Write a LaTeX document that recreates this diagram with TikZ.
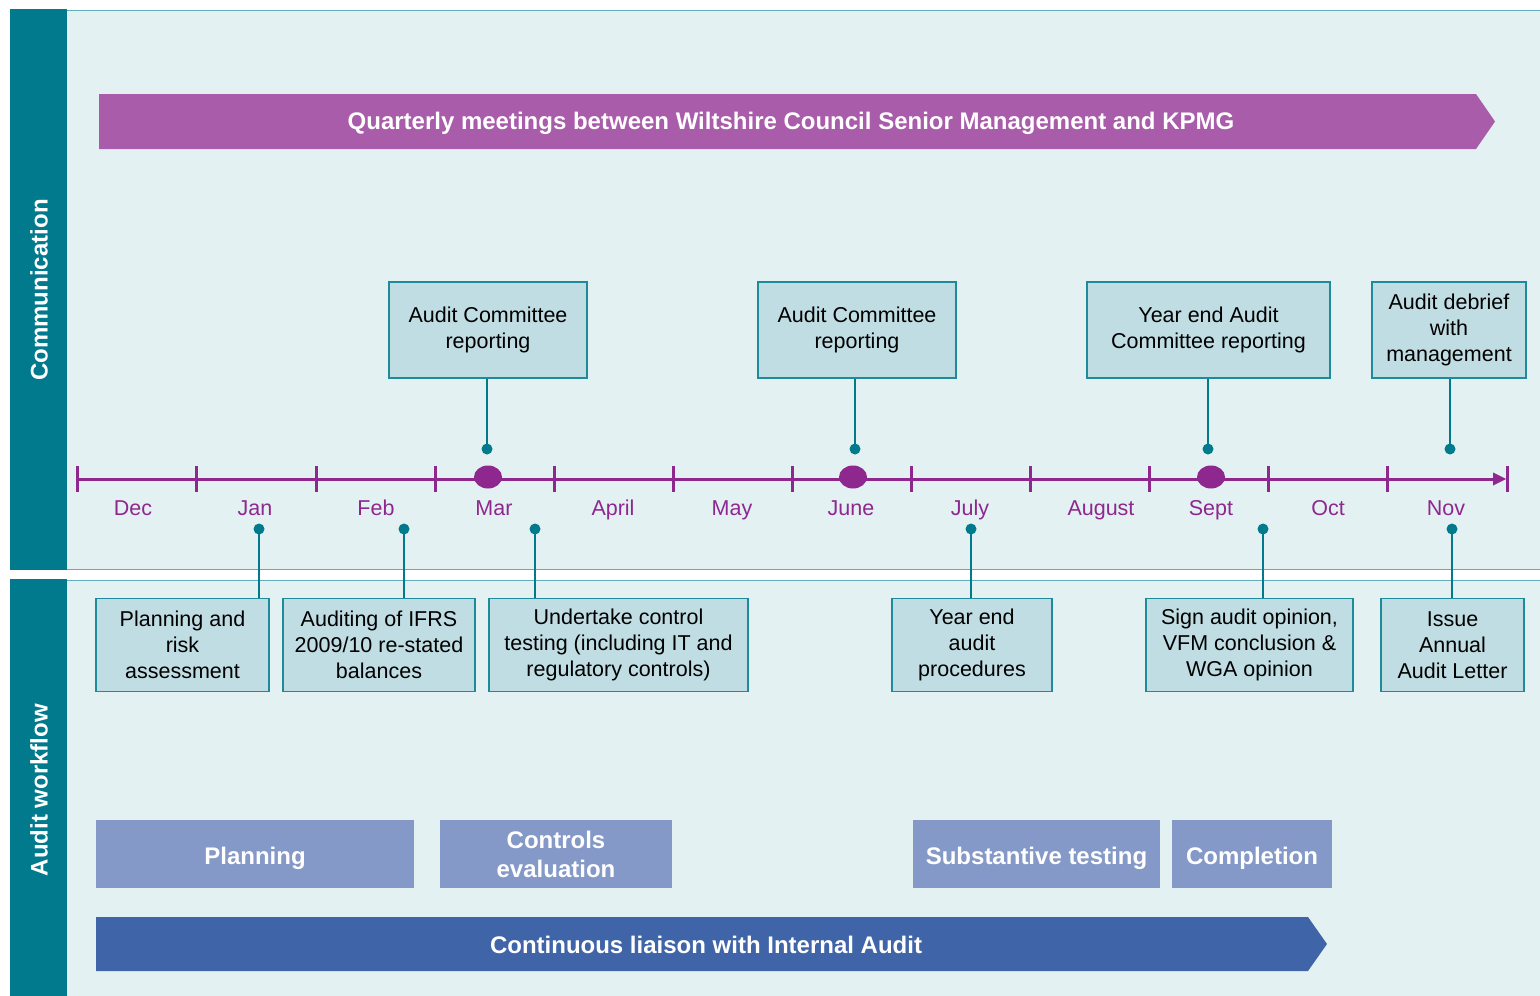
\documentclass[tikz,border=0pt]{standalone}
\usepackage{fontspec}
\setmainfont{Liberation Sans}
\usetikzlibrary{positioning,shapes.geometric}

\definecolor{sidebar}{HTML}{007A8C}
\definecolor{panel}{HTML}{E3F1F3}
\definecolor{panelline}{HTML}{5FAEBB}
\definecolor{boxfill}{HTML}{BFDDE3}
\definecolor{boxline}{HTML}{1F8A9A}
\definecolor{plum}{HTML}{8E278E}
\definecolor{meetband}{HTML}{A95CA9}
\definecolor{phasefill}{HTML}{8599C8}
\definecolor{liaisonband}{HTML}{3F64A8}

\tikzset{
  eventbox/.style={draw=boxline, fill=boxfill, line width=1.2pt, align=center, inner sep=0pt, text=black},
  phasebox/.style={fill=phasefill, align=center, inner sep=0pt, text=white, font=\fontsize{24}{29}\selectfont\bfseries},
  oneline/.style={text height=20pt, text depth=0pt},
  month/.style={text=plum, anchor=base},
  tick/.style={draw=plum, line width=3pt},
  pin/.style={draw=sidebar, line width=2.4pt},
  pindot/.style={circle, fill=sidebar, inner sep=0pt, minimum size=11pt},
  bandtext/.style={text=white, font=\fontsize{24}{28}\selectfont\bfseries},
  sidelabel/.style={rotate=90, text=white, font=\fontsize{24}{28}\selectfont\bfseries}
}

\begin{document}
\begin{tikzpicture}[x=1pt, y=-1pt, font=\fontsize{21.5}{26}\selectfont]
  \useasboundingbox (0,0) rectangle (1540,996);
  \fill[white] (0,0) rectangle (1540,996);

  % two panels with their side bars
  \fill[panel] (67,10) rectangle (1540,570);
  \fill[panel] (67,580) rectangle (1540,996);
  \draw[panelline, line width=1.5pt] (67,10.5) -- (1540,10.5);
  \draw[panelline, line width=1.5pt] (67,569.5) -- (1540,569.5);
  \draw[panelline, line width=1.5pt] (67,580.5) -- (1540,580.5);
  \fill[sidebar] (10,9) rectangle (67,570);
  \fill[sidebar] (10,579) rectangle (67,996);
  \node[sidelabel] (comm) at (39,290) {Communication};
  \node[sidelabel] (workflow) at (39,790) {Audit workflow};

  % quarterly meetings band
  \fill[meetband] (99,94) -- (1476,94) -- (1495,121.5) -- (1476,149) -- (99,149) -- cycle;
  \node[bandtext] (meetings) at (791,123.5)
    {Quarterly meetings between Wiltshire Council Senior Management and KPMG};

  % timeline
  \coordinate (tstart) at (77,479);
  \coordinate (tend) at (1506,479);
  \draw[tick] (tstart) -- (1497,479);
  \fill[plum] (tend) -- (1493,472.5) -- (1493,485.5) -- cycle;
  \foreach \x in {77,196,316,435,554,673,792,911,1030,1149,1268,1387,1507}
    \draw[tick] (\x,466) -- (\x,492);
  \foreach \x/\m in {133/Dec, 255/Jan, 376/Feb, 494/Mar, 613/April, 732/May, 851/June,
                     970/July, 1101/August, 1211/Sept, 1328/Oct, 1446/Nov}
    \node[month] (m-\m) at (\x,515) {\m};
  \foreach \x/\n in {488/mar, 853/jun, 1211/sep}
    \node[ellipse, fill=plum, minimum width=28pt, minimum height=23pt, inner sep=0pt] (q-\n) at (\x,477) {};

  % reporting above the timeline
  \node[eventbox, minimum width=198pt, minimum height=96pt] (acr1) at (488,330) {Audit Committee\\reporting};
  \node[eventbox, minimum width=198pt, minimum height=96pt] (acr2) at (857,330) {Audit Committee\\reporting};
  \node[eventbox, minimum width=243pt, minimum height=96pt] (yeacr) at (1208.5,330) {Year end Audit\\Committee reporting};
  \node[eventbox, minimum width=154pt, minimum height=96pt] (debrief) at (1449,330) {Audit debrief\\with\\management};
  \foreach \b/\x in {acr1/487, acr2/855, yeacr/1208, debrief/1450} {
    \node[pindot] (d-\b) at (\x,449) {};
    \draw[pin] (d-\b.center) -- (d-\b.center |- \b.south);
  }

  % workflow below the timeline
  \node[eventbox, minimum width=173pt, minimum height=93pt] (plan) at (182.5,645) {Planning and\\risk\\assessment};
  \node[eventbox, minimum width=192pt, minimum height=93pt] (ifrs) at (379,645) {Auditing of IFRS\\2009/10 re-stated\\balances};
  \node[eventbox, minimum width=259pt, minimum height=93pt] (ctrl) at (618.5,645) {Undertake control\\testing (including IT and\\regulatory controls)};
  \node[eventbox, minimum width=160pt, minimum height=93pt] (yend) at (972,645) {Year end\\audit\\procedures};
  \node[eventbox, minimum width=207pt, minimum height=93pt] (sign) at (1249.5,645) {Sign audit opinion,\\VFM conclusion \&\\WGA opinion};
  \node[eventbox, minimum width=143pt, minimum height=93pt] (letter) at (1452.5,645) {Issue\\Annual\\Audit Letter};
  \foreach \b/\x in {plan/259, ifrs/404, ctrl/535, yend/971, sign/1263, letter/1452} {
    \node[pindot] (d-\b) at (\x,529) {};
    \draw[pin] (d-\b.center) -- (d-\b.center |- \b.north);
  }

  % audit phases
  \node[phasebox, oneline, minimum width=318pt, minimum height=68pt] (p-plan) at (255,854) {Planning};
  \node[phasebox, minimum width=232pt, minimum height=68pt] (p-ctrl) at (556,854) {Controls\\evaluation};
  \node[phasebox, oneline, minimum width=247pt, minimum height=68pt] (p-subst) at (1036.5,854) {Substantive testing};
  \node[phasebox, oneline, minimum width=160pt, minimum height=68pt] (p-compl) at (1252,854) {Completion};

  % internal audit liaison band
  \fill[liaisonband] (96,917) -- (1308,917) -- (1327,944) -- (1308,971) -- (96,971) -- cycle;
  \node[bandtext] (liaison) at (706,945) {Continuous liaison with Internal Audit};
\end{tikzpicture}
\end{document}
